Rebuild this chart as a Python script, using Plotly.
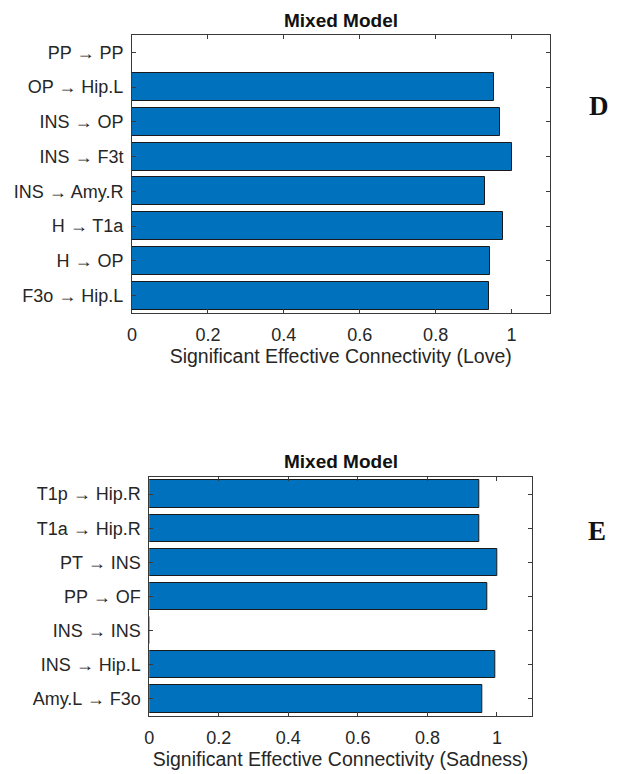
import plotly.graph_objects as go

# Effective connectivity links and their significance (Love condition)
love_links = ["PP → PP", "OP → Hip.L", "INS → OP", "INS → F3t",
              "INS → Amy.R", "H → T1a", "H → OP", "F3o → Hip.L"]
love_values = [0.0, 0.953, 0.969, 1.0, 0.930, 0.977, 0.943, 0.940]

# Effective connectivity links and their significance (Sadness condition)
sad_links = ["T1p → Hip.R", "T1a → Hip.R", "PT → INS", "PP → OF",
             "INS → INS", "INS → Hip.L", "Amy.L → F3o"]
sad_values = [0.948, 0.948, 1.0, 0.971, 0.0, 0.994, 0.957]

x_tick_vals = [0, 0.2, 0.4, 0.6, 0.8, 1]
x_tick_text = ["0", "0.2", "0.4", "0.6", "0.8", "1"]

W, H = 618, 774
SANS = "Liberation Sans, Arial, Helvetica, sans-serif"
SERIF = "Liberation Serif, Times New Roman, serif"
BAR_BLUE = "#0072BD"
AX_COL = "#3a3a3a"
TXT_COL = "#262626"


def px_x(x):
    return x / W


def px_y(y):
    return 1 - y / H


fig = go.Figure()

fig.add_trace(go.Bar(
    x=love_values, y=love_links, orientation="h", width=0.8,
    marker=dict(color=BAR_BLUE, line=dict(color="#1a1a1a", width=1)),
    xaxis="x", yaxis="y", showlegend=False,
))
fig.add_trace(go.Bar(
    x=sad_values, y=sad_links, orientation="h", width=0.8,
    marker=dict(color=BAR_BLUE, line=dict(color="#1a1a1a", width=1)),
    xaxis="x2", yaxis="y2", showlegend=False,
))


def x_axis(domain, anchor, title):
    return dict(
        domain=domain, anchor=anchor, range=[0, 1.1],
        tickvals=x_tick_vals, ticktext=x_tick_text,
        ticks="inside", ticklen=4, tickcolor=AX_COL, tickwidth=1,
        showline=True, linecolor=AX_COL, linewidth=1, mirror="allticks",
        showgrid=False, zeroline=False,
        tickfont=dict(family=SANS, size=18, color=TXT_COL),
        ticklabelstandoff=5,
        title=dict(text=title, font=dict(family=SANS, size=19.5, color=TXT_COL),
                   standoff=5),
        automargin=False,
    )


def y_axis(domain, anchor, links):
    n = len(links)
    return dict(
        domain=domain, anchor=anchor, type="category",
        categoryorder="array", categoryarray=links,
        range=[n - 0.5, -0.5],
        ticks="inside", ticklen=4, tickcolor=AX_COL, tickwidth=1,
        showline=True, linecolor=AX_COL, linewidth=1, mirror="allticks",
        showgrid=False, zeroline=False,
        tickfont=dict(family=SANS, size=18, color=TXT_COL),
        ticklabelstandoff=4,
        automargin=False,
    )


top_x = [px_x(132), px_x(549.5)]
top_y = [px_y(313), px_y(35)]
bot_x = [px_x(149.3), px_x(531.7)]
bot_y = [px_y(716), px_y(477)]

fig.update_layout(
    width=W, height=H,
    margin=dict(l=0, r=0, t=0, b=0),
    paper_bgcolor="white", plot_bgcolor="white",
    bargap=0,
    xaxis=x_axis(top_x, "y", "Significant Effective Connectivity (Love)"),
    yaxis=y_axis(top_y, "x", love_links),
    xaxis2=x_axis(bot_x, "y2", "Significant Effective Connectivity (Sadness)"),
    yaxis2=y_axis(bot_y, "x2", sad_links),
)

annotations = [
    dict(text="<b>Mixed Model</b>", x=(top_x[0] + top_x[1]) / 2, y=px_y(20)),
    dict(text="<b>Mixed Model</b>", x=(bot_x[0] + bot_x[1]) / 2, y=px_y(462)),
]
for a in annotations:
    fig.add_annotation(xref="paper", yref="paper", showarrow=False,
                       xanchor="center", yanchor="middle",
                       font=dict(family=SANS, size=19, color="#111111"), **a)

for letter, xc, yc in [("D", 599, 106), ("E", 597, 531)]:
    fig.add_annotation(text=f"<b>{letter}</b>", xref="paper", yref="paper",
                       x=px_x(xc), y=px_y(yc), showarrow=False,
                       xanchor="center", yanchor="middle",
                       font=dict(family=SERIF, size=27, color="#111111"))

fig.write_html("out.html")
